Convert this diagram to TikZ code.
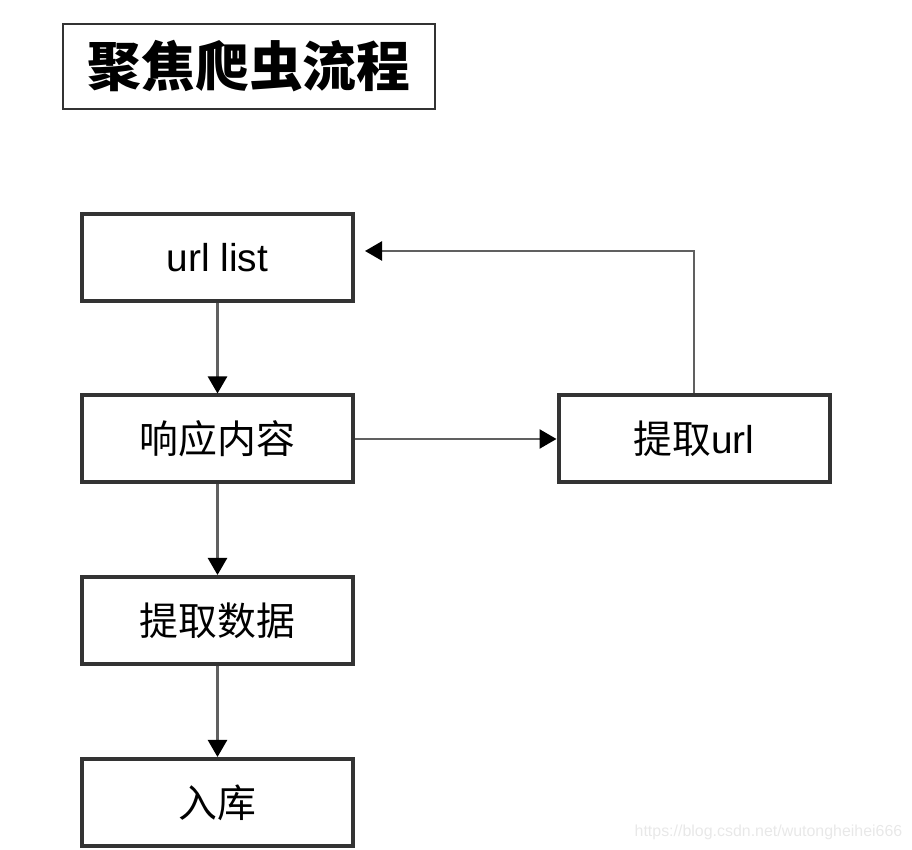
\documentclass[tikz,border=0pt]{standalone}
\usepackage{fontspec}
\setmainfont{Liberation Sans}
\newfontfamily\cjk{Noto Sans CJK SC}
\usepackage{tikz}
\usetikzlibrary{arrows.meta}
\usetikzlibrary{shapes}
\definecolor{boxline}{HTML}{333333}
\definecolor{arrowline}{HTML}{606060}
\definecolor{mark}{HTML}{E8E8E8}
\tikzset{
  flowbox/.style={draw=boxline,line width=4bp,rectangle,inner sep=0pt,
    minimum width=271bp,minimum height=87bp,font=\fontsize{39}{46}\selectfont},
  flowarrow/.style={draw=arrowline,line width=2.5bp,
    -{Triangle[length=17bp,width=19bp,color=black]}},
}
\begin{document}
\begin{tikzpicture}[line join=miter,]
\useasboundingbox (0bp,0bp) rectangle (912bp,850bp);
%%
\node (node_t) at (249bp,783.5bp) [draw=boxline,line width=2.5bp,minimum width=372bp,minimum height=85bp,
  font=\fontsize{54}{62}\selectfont\cjk\bfseries] {聚焦爬虫流程};
  \node (node_0) at (217.5bp,592bp) [flowbox] {url list};
  \node (node_1) at (217.5bp,411bp) [flowbox] {\cjk 响应内容};
  \node (node_2) at (217.5bp,229.5bp) [flowbox] {\cjk 提取数据};
  \node (node_3) at (217.5bp,47.5bp) [flowbox] {\cjk 入库};
  \node (node_4) at (694bp,411bp) [flowbox] {{\cjk 提取}url};
  \coordinate (turn) at (694bp,599bp);
  \coordinate (tip) at (365bp,599bp);
  \node (mark_0) at (768.5bp,18bp) [text=mark,font=\fontsize{16}{18}\selectfont] {https://blog.csdn.net/wutongheihei666};
  \draw [flowarrow] (node_0) -- (node_1);
  \draw [flowarrow] (node_1) -- (node_2);
  \draw [flowarrow] (node_2) -- (node_3);
  \draw [flowarrow] (node_1) -- (node_4);
  \draw [flowarrow] (node_4.north) -- (turn) -- (tip);
%
\end{tikzpicture}
\end{document}
